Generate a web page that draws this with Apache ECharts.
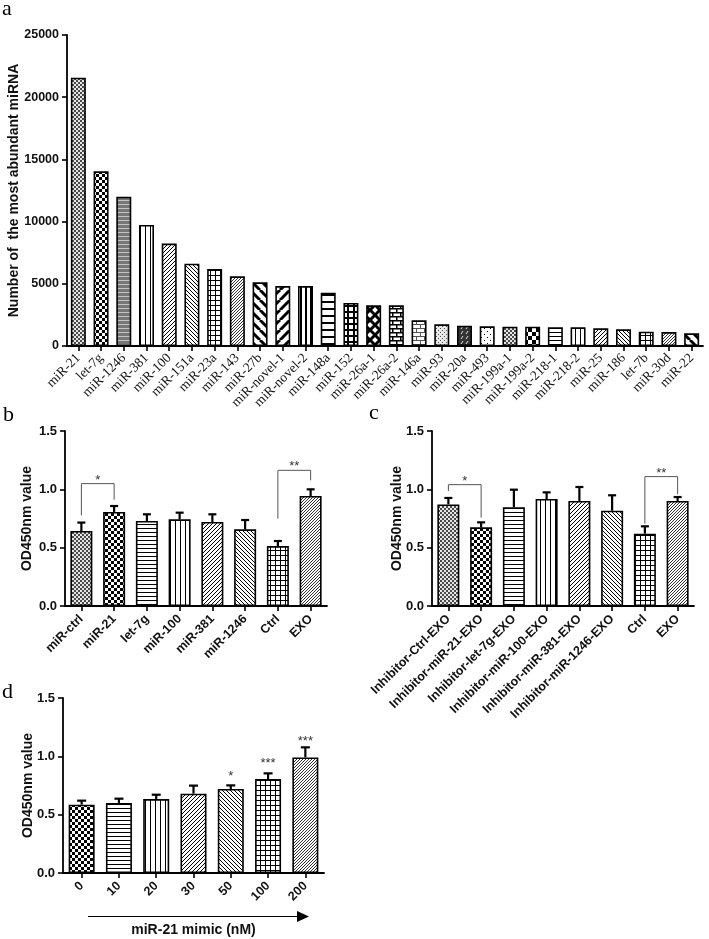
<!DOCTYPE html>
<html>
<head>
<meta charset="utf-8">
<script src="https://cdn.jsdelivr.net/npm/echarts@6/dist/echarts.min.js"></script>
<style>
  html, body { margin: 0; padding: 0; background: #fff; }
  #demo { width: 709px; height: 939px; }
</style>
</head>
<body>
<div id="demo"></div>
<script>
// ---- panel a: most abundant miRNA ----
var aCats = ['miR-21','let-7g','miR-1246','miR-381','miR-100','miR-151a','miR-23a','miR-143',
  'miR-27b','miR-novel-1','miR-novel-2','miR-148a','miR-152','miR-26a-1','miR-26a-2','miR-146a',
  'miR-93','miR-20a','miR-493','miR-199a-1','miR-199a-2','miR-218-1','miR-218-2','miR-25',
  'miR-186','let-7b','miR-30d','miR-22'];
var aVals = [21570, 14040, 12000, 9730, 8230, 6620, 6190, 5600, 5120, 4820, 4820, 4290, 3460,
  3270, 3270, 2060, 1740, 1630, 1580, 1550, 1550, 1500, 1500, 1420, 1340, 1150, 1120, 1020];
var aTicks = [0, 5000, 10000, 15000, 20000, 25000];

// ---- panel b: OD450 after miRNA transfection ----
var bCats = ['miR-ctrl','miR-21','let-7g','miR-100','miR-381','miR-1246','Ctrl','EXO'];
var bMean = [0.643, 0.806, 0.729, 0.743, 0.720, 0.657, 0.514, 0.943];
var bSem  = [0.072, 0.051, 0.057, 0.057, 0.066, 0.080, 0.043, 0.057];
var bSigPair = [[0, 1], [6, 7]];
var bSigY    = [1.049, 1.163];
var bSigLeg  = [[0.777, 0.911], [0.749, 1.077]];
var bSigText = ['*', '**'];

// ---- panel c: OD450 with inhibitors ----
var cCats = ['Inhibitor-Ctrl-EXO','Inhibitor-miR-21-EXO','Inhibitor-let-7g-EXO','Inhibitor-miR-100-EXO',
  'Inhibitor-miR-381-EXO','Inhibitor-miR-1246-EXO','Ctrl','EXO'];
var cMean = [0.871, 0.674, 0.846, 0.917, 0.900, 0.817, 0.620, 0.900];
var cSem  = [0.055, 0.043, 0.151, 0.057, 0.120, 0.132, 0.063, 0.034];
var cSigPair = [[0, 1], [6, 7]];
var cSigY    = [1.040, 1.109];
var cSigLeg  = [[0.986, 0.757], [0.706, 0.957]];
var cSigText = ['*', '**'];

// ---- panel d: miR-21 mimic dose ----
var dCats = ['0','10','20','30','50','100','200'];
var dMean = [0.586, 0.600, 0.634, 0.680, 0.720, 0.806, 0.991];
var dSem  = [0.034, 0.037, 0.037, 0.069, 0.031, 0.048, 0.086];
var dStar = ['', '', '', '', '*', '***', '***'];
var dStarY = [0, 0, 0, 0, 0.857, 0.971, 1.154];

var odTicks = [0, 0.5, 1.0, 1.5];

// pattern tiles (fills for the bars)
function tile(size, bg, draw) {
  var c = document.createElement('canvas');
  c.width = size; c.height = size;
  var g = c.getContext('2d');
  g.fillStyle = bg; g.fillRect(0, 0, size, size);
  draw(g, size);
  return { image: c, repeat: 'repeat' };
}
function diag(g, s, w, col, back) {
  g.strokeStyle = col; g.lineWidth = w;
  for (var k = -1; k <= 1; k++) {
    g.beginPath();
    if (back) { g.moveTo(k * s, 0); g.lineTo(k * s + s, s); }
    else { g.moveTo(k * s, s); g.lineTo(k * s + s, 0); }
    g.stroke();
  }
}
var pat = {
  mesh: tile(4, '#e6e6e6', function (g) { g.fillStyle = '#4a4a4a'; g.fillRect(0, 0, 2, 2); g.fillRect(2, 2, 2, 2); }),
  check: tile(6, '#fff', function (g) { g.fillStyle = '#000'; g.fillRect(0, 0, 3, 3); g.fillRect(3, 3, 3, 3); }),
  check8: tile(8, '#fff', function (g) { g.fillStyle = '#000'; g.fillRect(0, 0, 4, 4); g.fillRect(4, 4, 4, 4); }),
  grayH: tile(4, '#767676', function (g) { g.fillStyle = '#c4c4c4'; g.fillRect(0, 0, 4, 1); }),
  hLine: tile(4, '#fff', function (g) { g.fillStyle = '#000'; g.fillRect(0, 0, 4, 1); }),
  vLine: tile(5, '#fff', function (g) { g.fillStyle = '#000'; g.fillRect(0, 0, 1, 5); }),
  fwd: tile(4, '#fff', function (g, s) { diag(g, s, 1, '#000', false); }),
  back: tile(4, '#fff', function (g, s) { diag(g, s, 1, '#000', true); }),
  grid: tile(5, '#fff', function (g) { g.fillStyle = '#000'; g.fillRect(0, 0, 5, 1); g.fillRect(0, 0, 1, 5); }),
  dense: tile(3, '#fff', function (g, s) { diag(g, s, 1, '#333', false); }),
  thickB: tile(10, '#fff', function (g, s) { diag(g, s, 3, '#000', true); }),
  thickF: tile(10, '#fff', function (g, s) { diag(g, s, 3, '#000', false); }),
  thickV: tile(5, '#fff', function (g) { g.fillStyle = '#000'; g.fillRect(0, 0, 2, 5); }),
  thickH: tile(7, '#fff', function (g) { g.fillStyle = '#000'; g.fillRect(0, 0, 7, 2); }),
  thickGrid: tile(6, '#000', function (g) { g.fillStyle = '#fff'; g.fillRect(1, 1, 4, 4); }),
  diamond: tile(10, '#fff', function (g, s) { diag(g, s, 3, '#000', false); diag(g, s, 3, '#000', true); }),
  brick: tile(8, '#fff', function (g) {
    g.fillStyle = '#000'; g.fillRect(0, 0, 8, 1.5); g.fillRect(0, 4, 8, 1.5);
    g.fillRect(0, 0, 1.5, 4); g.fillRect(4, 4, 1.5, 4);
  }),
  brickGray: tile(8, '#fff', function (g) {
    g.fillStyle = '#555'; g.fillRect(0, 0, 8, 1); g.fillRect(0, 4, 8, 1);
    g.fillRect(0, 0, 1, 4); g.fillRect(4, 4, 1, 4);
  }),
  stipple: tile(4, '#e8e8e8', function (g) { g.fillStyle = '#555'; g.fillRect(0, 0, 1, 1); g.fillRect(2, 2, 1, 1); }),
  wave: tile(5, '#333', function (g) { g.strokeStyle = '#ddd'; g.lineWidth = 1; g.beginPath(); g.moveTo(1, 4); g.lineTo(3, 1); g.stroke(); }),
  dots: tile(6, '#fff', function (g) { g.fillStyle = '#000'; g.fillRect(1, 1, 1, 1); g.fillRect(4, 4, 1, 1); })
};
var aPat = ['mesh','check','grayH','vLine','fwd','back','grid','dense','thickB','thickF','thickV','thickH',
  'thickGrid','diamond','brick','brickGray','stipple','wave','dots','mesh','check8','hLine','vLine','fwd',
  'back','grid','dense','thickB'];
var bPat = ['mesh','check','hLine','vLine','fwd','back','grid','dense'];
var dPat = ['check','hLine','vLine','fwd','back','grid','dense'];

var SANS = 'Liberation Sans, Arial, sans-serif';
var SERIF = 'Liberation Serif, Times New Roman, serif';

function barData(vals, pats) {
  return vals.map(function (v, i) { return { value: v, itemStyle: { color: pat[pats[i]] } }; });
}
function barSeries(idx, vals, pats, w) {
  return { type: 'bar', xAxisIndex: idx, yAxisIndex: idx, barWidth: w, silent: true,
    itemStyle: { borderColor: '#000', borderWidth: 1.6 }, data: barData(vals, pats) };
}
function errSeries(idx, means, sems, capW) {
  return { type: 'custom', xAxisIndex: idx, yAxisIndex: idx, z: 5, silent: true,
    data: means.map(function (m, i) { return [i, m, m + sems[i]]; }),
    renderItem: function (params, api) {
      var p0 = api.coord([api.value(0), api.value(1)]);
      var p1 = api.coord([api.value(0), api.value(2)]);
      return { type: 'group', children: [
        { type: 'line', shape: { x1: p0[0], y1: p0[1], x2: p1[0], y2: p1[1] }, style: { stroke: '#000', lineWidth: 2.2 } },
        { type: 'line', shape: { x1: p1[0] - capW / 2, y1: p1[1], x2: p1[0] + capW / 2, y2: p1[1] }, style: { stroke: '#000', lineWidth: 2.2 } }
      ] };
    }
  };
}
function sigSeries(idx, pairs, ys, legs, texts) {
  return { type: 'custom', xAxisIndex: idx, yAxisIndex: idx, z: 6, silent: true,
    encode: { x: 0, y: 2 },
    data: pairs.map(function (p, i) { return [p[0], p[1], ys[i], legs[i][0], legs[i][1]]; }),
    renderItem: function (params, api) {
      var a = api.coord([api.value(0), api.value(2)]);
      var b = api.coord([api.value(1), api.value(2)]);
      var la = api.coord([api.value(0), api.value(3)]);
      var lb = api.coord([api.value(1), api.value(4)]);
      return { type: 'group', children: [
        { type: 'polyline', shape: { points: [[la[0], la[1]], [a[0], a[1]], [b[0], b[1]], [lb[0], lb[1]]] },
          style: { stroke: '#555', lineWidth: 1, fill: null } },
        { type: 'text', x: (a[0] + b[0]) / 2, y: a[1] + 3,
          style: { text: texts[params.dataIndex], fill: '#333', font: '13px ' + SANS, align: 'center', verticalAlign: 'bottom' } }
      ] };
    }
  };
}
function starSeries(idx, ys, texts) {
  return { type: 'custom', xAxisIndex: idx, yAxisIndex: idx, z: 6, silent: true,
    data: ys.map(function (y, i) { return [i, y]; }),
    renderItem: function (params, api) {
      var p = api.coord([api.value(0), api.value(1)]);
      return { type: 'text', x: p[0], y: p[1] + 3.5,
        style: { text: texts[params.dataIndex], fill: '#333', font: '13px ' + SANS, align: 'center', verticalAlign: 'middle' } };
    }
  };
}

var axLine = { show: true, lineStyle: { color: '#000', width: 1.8 } };
var axTick = { show: true, length: 5, lineStyle: { color: '#000', width: 1.6 } };
function catAxis(idx, cats, font, size, weight, margin) {
  return { type: 'category', gridIndex: idx, data: cats, axisLine: axLine,
    axisTick: { show: true, alignWithLabel: true, length: 5, lineStyle: { color: '#000', width: 1.6 } },
    axisLabel: { interval: 0, rotate: 45, margin: margin, fontFamily: font, fontSize: size, fontWeight: weight, color: '#111' } };
}
function odAxis(idx, gap) {
  return { type: 'value', gridIndex: idx, min: 0, max: 1.5, interval: 0.5,
    axisLine: axLine, axisTick: axTick, splitLine: { show: false },
    axisLabel: { margin: 8, fontFamily: SANS, fontSize: 13, fontWeight: 'bold', color: '#111',
      formatter: function (v) { return odTicks.indexOf(v) >= 0 ? v.toFixed(1) : ''; } },
    name: 'OD450nm value', nameLocation: 'middle', nameGap: gap, nameMoveOverlap: false,
    nameTextStyle: { fontFamily: SANS, fontSize: 14, fontWeight: 'bold', color: '#111' } };
}

var mychar = echarts.init(document.getElementById('demo'), null, { renderer: 'canvas' });
mychar.setOption({
  animation: false,
  backgroundColor: '#fff',
  grid: [
    { left: 67, top: 35, width: 636, height: 311, outerBoundsMode: 'none' },
    { left: 65, top: 431, width: 262, height: 175, outerBoundsMode: 'none' },
    { left: 432, top: 431, width: 262, height: 175, outerBoundsMode: 'none' },
    { left: 63, top: 698, width: 261, height: 175, outerBoundsMode: 'none' }
  ],
  xAxis: [
    catAxis(0, aCats, SERIF, 13.5, 'normal', 10),
    catAxis(1, bCats, SANS, 12.5, 'bold', 11),
    catAxis(2, cCats, SANS, 12.5, 'bold', 11),
    Object.assign(catAxis(3, dCats, SANS, 12.5, 'bold', 11), {
      name: 'miR-21 mimic (nM)', nameLocation: 'middle', nameGap: 50, nameMoveOverlap: false,
      nameTextStyle: { fontFamily: SANS, fontSize: 14, fontWeight: 'bold', color: '#111' } })
  ],
  yAxis: [
    { type: 'value', gridIndex: 0, min: 0, max: 25000, interval: 5000,
      axisLine: axLine, axisTick: axTick, splitLine: { show: false },
      axisLabel: { margin: 8, fontFamily: SANS, fontSize: 12.5, fontWeight: 'bold', color: '#111',
        formatter: function (v) { return aTicks.indexOf(v) >= 0 ? String(v) : ''; } },
      name: 'Number of  the most abundant miRNA', nameLocation: 'middle', nameGap: 46, nameMoveOverlap: false,
      nameTextStyle: { fontFamily: SANS, fontSize: 14, fontWeight: 'bold', color: '#111' } },
    odAxis(1, 31),
    odAxis(2, 28),
    odAxis(3, 28)
  ],
  graphic: [
    { type: 'text', left: 2, top: -2, style: { text: 'a', font: '22px ' + SERIF, fill: '#000' } },
    { type: 'text', left: 3, top: 404, style: { text: 'b', font: '22px ' + SERIF, fill: '#000' } },
    { type: 'text', left: 369, top: 402, style: { text: 'c', font: '22px ' + SERIF, fill: '#000' } },
    { type: 'text', left: 2, top: 681, style: { text: 'd', font: '22px ' + SERIF, fill: '#000' } },
    { type: 'line', shape: { x1: 88, y1: 916.5, x2: 298, y2: 916.5 }, style: { stroke: '#000', lineWidth: 1.2 } },
    { type: 'polygon', shape: { points: [[297, 911], [309, 916.5], [297, 922]] }, style: { fill: '#000' } }
  ],
  series: [
    barSeries(0, aVals, aPat, 15),
    barSeries(1, bMean, bPat, 22),
    errSeries(1, bMean, bSem, 8),
    sigSeries(1, bSigPair, bSigY, bSigLeg, bSigText),
    barSeries(2, cMean, bPat, 22),
    errSeries(2, cMean, cSem, 8),
    sigSeries(2, cSigPair, cSigY, cSigLeg, cSigText),
    barSeries(3, dMean, dPat, 26),
    errSeries(3, dMean, dSem, 9),
    starSeries(3, dStarY, dStar)
  ]
});
</script>
</body>
</html>
